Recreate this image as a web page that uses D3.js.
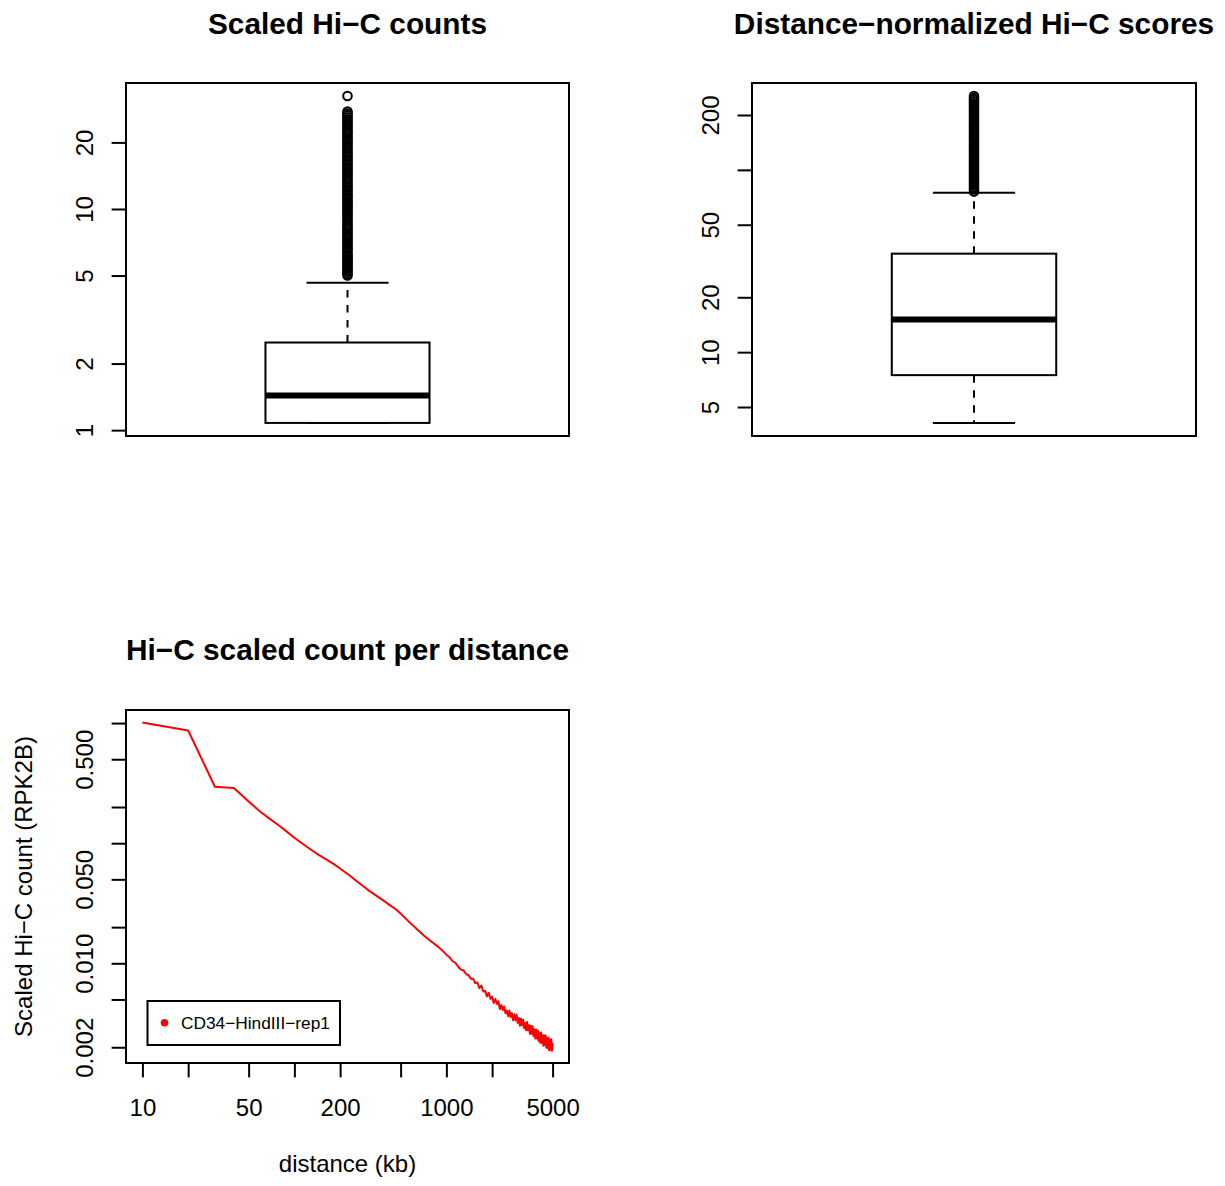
<!DOCTYPE html>
<html><head><meta charset="utf-8">
<script src="https://cdn.jsdelivr.net/npm/d3@7"></script>
<style>
body{margin:0;background:#fff}
svg{display:block;font-family:"Liberation Sans",Arial,Helvetica,sans-serif}
</style></head><body>
<svg id="c" width="1225" height="1186"></svg>
<script>
// ---------- data ----------
// Panel 1: Scaled Hi-C counts (boxplot stats: lower whisker, Q1, median, Q3, upper whisker)
const countStats = [1.078, 1.078, 1.436, 2.49, 4.64];
const countOutliers = [5.0,5.1,5.2,5.3,5.4,5.5,5.6,5.7,5.8,5.9,6.0,6.1,6.2,6.35,6.5,6.6,6.75,6.9,7.0,7.15,7.3,7.45,7.6,7.75,7.9,8.1,8.25,8.4,8.6,8.8,9.0,9.2,9.4,9.6,9.8,10.0,10.2,10.4,10.6,10.8,11.0,11.3,11.5,11.7,12.0,12.2,12.5,12.7,13.0,13.3,13.6,13.9,14.2,14.5,14.8,15.1,15.4,15.7,16.0,16.4,16.7,17.1,17.4,17.8,18.2,18.6,19.0,19.4,19.8,20.2,20.6,21.0,21.5,22.0,22.4,22.9,23.4,23.9,24.4,24.9,25.4,26.0,26.5,27.0,27.6,32.4];
const countTicks = [1, 2, 5, 10, 20];
const countLabels = [1, 2, 5, 10, 20];

// Panel 2: Distance-normalized Hi-C scores
const scoreStats = [4.09, 7.48, 15.1, 34.7, 75.0];
const scoreOutliers = [76,78,80,82,84,86,88,90,92,94,96.5,99,101.5,104,106.5,109,112,115,118,121,124,127,130,133,136.5,140,143.5,147,150.5,154,158,162,166,170,174,178,182.5,187,191.5,196,201,206,211,216,221,226.5,232,237.5,243,248,254];
const scoreTicks = [5, 10, 20, 50, 100, 200];
const scoreLabels = [5, 10, 20, 50, 200];

// Panel 3: Hi-C scaled count per distance
const distanceKb = [10,20,30,40,50,60,70,80,90,100,120,140,160,180,200,230,260,300,340,380,420,470,520,580,650,720,800,880,960,
1000,1050,1100,1150,1200,1250,1300,1350,1400,1450,1500,1550,1600,1650,1700,1750,1800,1850,1900,1950,
2000,2050,2100,2150,2200,2250,2300,2350,2400,2450,2500,2550,2600,2650,2700,2750,2800,2850,2900,2950,
3000,3050,3100,3150,3200,3250,3300,3350,3400,3450,3500,3550,3600,3650,3700,3750,3800,3850,3900,3950,
4000,4050,4100,4150,4200,4250,4300,4350,4400,4450,4500,4550,4600,4650,4700,4750,4800,4850,4900,4950,5000];
const scaledCount = [1.01,0.867,0.295,0.288,0.222,0.182,0.157,0.139,0.1236,0.1109,0.0938,0.0820,0.0741,0.0676,0.0615,0.0541,0.0478,0.0415,0.0371,0.0337,0.0308,0.0279,0.0247,0.0216,0.0189,0.0168,0.0151,0.01377,0.01245,
0.0118,0.01122,0.01040,0.01006,0.00931,0.00885,0.00870,0.00814,0.00795,0.00742,0.00745,0.00686,0.00691,0.00620,0.00653,0.00582,0.00590,0.00530,0.00567,0.00506,
0.00527,0.00468,0.00504,0.00458,0.00482,0.00416,0.00449,0.00409,0.00437,0.00383,0.00405,0.00363,0.00404,0.00357,0.00385,0.00335,0.00376,0.00336,0.00372,0.00319,
0.00351,0.00302,0.00347,0.00304,0.00339,0.00288,0.00318,0.00277,0.00324,0.00277,0.00305,0.00258,0.00302,0.00259,0.00299,0.00247,0.00281,0.00236,0.00281,0.00237,
0.00276,0.00226,0.00262,0.00218,0.00265,0.00217,0.00252,0.00206,0.00251,0.00209,0.00250,0.00198,0.00238,0.00197,0.00241,0.00188,0.00231,0.00192,0.00233,0.00187,0.00217];
const distTicks = [10, 20, 50, 100, 200, 500, 1000, 2000, 5000];
const distLabels = [10, 50, 200, 1000, 5000];
const countPerDistTicks = [1, 0.5, 0.2, 0.1, 0.05, 0.02, 0.01, 0.005, 0.002];
const countPerDistLabels = [0.5, 0.05, 0.01, 0.002];
const seriesName = "CD34\u2212HindIII\u2212rep1";

// ---------- drawing ----------
const FONT = '"Liberation Sans",Arial,Helvetica,sans-serif';
const svg = d3.select("#c");
svg.append("rect").attr("width", 1225).attr("height", 1186).attr("fill", "#fff");

function logDomain(lo, hi) {
  const a = Math.log10(lo), b = Math.log10(hi), e = (b - a) * 0.04;
  return [Math.pow(10, a - e), Math.pow(10, b + e)];
}

function styleAxis(g) {
  g.attr("font-family", FONT).attr("font-size", 24);
  g.select(".domain").remove();
  g.selectAll(".tick line").attr("stroke", "#000").attr("stroke-width", 2);
  g.selectAll(".tick text").attr("fill", "#000");
}

function yAxis(x0, scale, ticks, labels, fmt) {
  const g = svg.append("g").attr("transform", `translate(${x0},0)`);
  g.call(d3.axisLeft(scale).tickValues(ticks).tickSize(14.4).tickSizeOuter(0)
    .tickFormat(d => labels.some(l => Math.abs(l - d) < 1e-12) ? fmt(d) : ""));
  styleAxis(g);
  g.selectAll(".tick text").attr("x", 0).attr("dy", 0)
    .attr("transform", "translate(-33,0) rotate(-90)").attr("text-anchor", "middle");
}

function frame(p) {
  svg.append("rect").attr("x", p.x0).attr("y", p.y0).attr("width", p.x1 - p.x0).attr("height", p.y1 - p.y0)
    .attr("fill", "none").attr("stroke", "#000").attr("stroke-width", 2);
}

function title(txt, cx, y) {
  svg.append("text").attr("x", cx).attr("y", y).attr("text-anchor", "middle")
    .attr("font-family", FONT).attr("font-size", 29.8).attr("font-weight", "bold").text(txt);
}

function boxPanel(p, stats, outliers, ticks, labels, ttl) {
  const all = stats.concat(outliers);
  const y = d3.scaleLog().domain(logDomain(d3.min(all), d3.max(all))).range([p.y1, p.y0]);
  const x = d3.scaleLinear().domain([0.46, 1.54]).range([p.x0, p.x1]);
  const g = svg.append("g");
  // whiskers
  g.append("line").attr("x1", x(1)).attr("x2", x(1)).attr("y1", y(stats[3])).attr("y2", y(stats[4]))
    .attr("stroke", "#000").attr("stroke-width", 2).attr("stroke-dasharray", "7.5,7.5");
  g.append("line").attr("x1", x(1)).attr("x2", x(1)).attr("y1", y(stats[1])).attr("y2", y(stats[0]))
    .attr("stroke", "#000").attr("stroke-width", 2).attr("stroke-dasharray", "7.5,7.5");
  [stats[0], stats[4]].forEach(v => g.append("line").attr("x1", x(0.9)).attr("x2", x(1.1))
    .attr("y1", y(v)).attr("y2", y(v)).attr("stroke", "#000").attr("stroke-width", 2));
  // box
  g.append("rect").attr("x", x(0.8)).attr("width", x(1.2) - x(0.8))
    .attr("y", y(stats[3])).attr("height", y(stats[1]) - y(stats[3]))
    .attr("fill", "#fff").attr("stroke", "#000").attr("stroke-width", 2);
  g.append("line").attr("x1", x(0.8)).attr("x2", x(1.2)).attr("y1", y(stats[2])).attr("y2", y(stats[2]))
    .attr("stroke", "#000").attr("stroke-width", 6);
  // outliers
  g.selectAll("circle.o").data(outliers).join("circle").attr("class", "o")
    .attr("cx", x(1)).attr("cy", d => y(d)).attr("r", 4.3)
    .attr("fill", "none").attr("stroke", "#000").attr("stroke-width", 2);
  yAxis(p.x0, y, ticks, labels, d => String(d));
  frame(p);
  title(ttl, (p.x0 + p.x1) / 2, 33.5);
}

boxPanel({x0: 126, x1: 569, y0: 83, y1: 436}, countStats, countOutliers, countTicks, countLabels, "Scaled Hi\u2212C counts");
boxPanel({x0: 752, x1: 1196, y0: 83, y1: 436}, scoreStats, scoreOutliers, scoreTicks, scoreLabels, "Distance\u2212normalized Hi\u2212C scores");

// Panel 3
const p3 = {x0: 126, x1: 569, y0: 710, y1: 1063};
const xs = d3.scaleLog().domain(logDomain(10, 5000)).range([p3.x0, p3.x1]);
const ys = d3.scaleLog().domain(logDomain(0.0019, 1.0)).range([p3.y1, p3.y0]);
const pts = distanceKb.map((d, i) => ({d: d, c: scaledCount[i]}));
svg.append("path").datum(pts)
  .attr("d", d3.line().x(d => xs(d.d)).y(d => ys(d.c)))
  .attr("fill", "none").attr("stroke", "#ff0000").attr("stroke-width", 2).attr("stroke-linejoin", "round");

yAxis(p3.x0, ys, countPerDistTicks, countPerDistLabels, d => d.toFixed(3));
const gx = svg.append("g").attr("transform", `translate(0,${p3.y1})`);
gx.call(d3.axisBottom(xs).tickValues(distTicks).tickSize(14.4).tickSizeOuter(0)
  .tickFormat(d => distLabels.includes(d) ? String(d) : ""));
styleAxis(gx);
gx.selectAll(".tick text").attr("y", 53).attr("dy", 0);
frame(p3);
title("Hi\u2212C scaled count per distance", (p3.x0 + p3.x1) / 2, 660);

svg.append("text").attr("x", (p3.x0 + p3.x1) / 2).attr("y", 1172).attr("text-anchor", "middle")
  .attr("font-family", FONT).attr("font-size", 24).text("distance (kb)");
svg.append("text").attr("transform", `translate(32,${(p3.y0 + p3.y1) / 2}) rotate(-90)`).attr("text-anchor", "middle")
  .attr("font-family", FONT).attr("font-size", 24).text("Scaled Hi\u2212C count (RPK2B)");

// legend
const lg = svg.append("g");
lg.append("rect").attr("x", 147.5).attr("y", 1001).attr("width", 192.5).attr("height", 44)
  .attr("fill", "#fff").attr("stroke", "#000").attr("stroke-width", 2);
lg.append("circle").attr("cx", 164.5).attr("cy", 1022.7).attr("r", 3.8).attr("fill", "#ff0000");
lg.append("text").attr("x", 181).attr("y", 1029).attr("font-family", FONT).attr("font-size", 17.3).text(seriesName);
</script>
</body></html>
